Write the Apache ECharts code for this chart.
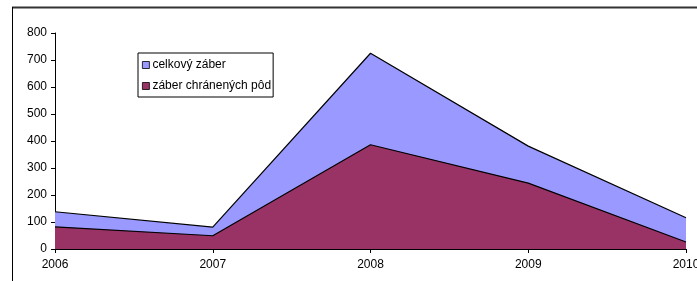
<!DOCTYPE html>
<html>
<head>
<meta charset="utf-8">
<script src="https://cdn.jsdelivr.net/npm/echarts@6/dist/echarts.min.js"></script>
<style>
  html, body { margin: 0; padding: 0; background: #fff; }
  #chart { width: 697px; height: 281px; }
</style>
</head>
<body>
<div id="chart"></div>
<script>
// data
var years = ['2006', '2007', '2008', '2009', '2010'];
var celkovy = [138, 81, 725, 381, 116];
var chranene = [82, 49, 386, 244, 26];
var yTicks = [0, 100, 200, 300, 400, 500, 600, 700, 800];

var font = 'Liberation Sans, Arial, sans-serif';

var myChart = echarts.init(document.getElementById('chart'));

var option = {
    animation: false,
    grid: { left: 55, right: 11, top: 33, bottom: 32, outerBoundsMode: 'none', containLabel: false },
    // outer frame of the chart area
    graphic: [
        { type: 'line', shape: { x1: 12, y1: 7.5, x2: 697, y2: 7.5 }, style: { stroke: '#333', lineWidth: 2 } },
        { type: 'line', shape: { x1: 12.5, y1: 7, x2: 12.5, y2: 281 }, style: { stroke: '#000', lineWidth: 1 } }
    ],
    legend: {
        left: 138, top: 53,
        orient: 'vertical',
        itemWidth: 7, itemHeight: 7,
        itemGap: 9,
        padding: [6, 2, 5, 4],
        borderColor: '#000', borderWidth: 1,
        icon: 'rect',
        textStyle: { fontFamily: font, fontSize: 12, color: '#000', padding: [0, 0, 0, -2] },
        data: [
            { name: 'celkový záber', itemStyle: { color: '#9999ff', borderColor: '#000', borderWidth: 0.8 } },
            { name: 'záber chránených pôd', itemStyle: { color: '#993366', borderColor: '#000', borderWidth: 0.8 } }
        ]
    },
    xAxis: {
        type: 'category',
        data: years,
        boundaryGap: false,
        axisLine: { lineStyle: { color: '#000', width: 1 } },
        axisTick: { show: true, length: 4, lineStyle: { color: '#000' } },
        axisLabel: { fontFamily: font, fontSize: 12, color: '#000', margin: 10 }
    },
    yAxis: {
        type: 'value',
        min: 0, max: 800, interval: 100,
        axisLine: { show: true, lineStyle: { color: '#000', width: 1 } },
        axisTick: { show: true, length: 4, lineStyle: { color: '#000' } },
        axisLabel: {
            fontFamily: font, fontSize: 12, color: '#000', margin: 8,
            formatter: function (v) { return yTicks.indexOf(v) >= 0 ? String(v) : ''; }
        },
        splitLine: { show: false }
    },
    series: [
        {
            name: 'celkový záber',
            type: 'line',
            data: celkovy,
            symbol: 'none',
            lineStyle: { color: '#000', width: 1.2 },
            itemStyle: { color: '#9999ff' },
            areaStyle: { color: '#9999ff', opacity: 1 },
            z: 2
        },
        {
            name: 'záber chránených pôd',
            type: 'line',
            data: chranene,
            symbol: 'none',
            lineStyle: { color: '#000', width: 1.2 },
            itemStyle: { color: '#993366' },
            areaStyle: { color: '#993366', opacity: 1 },
            z: 3
        }
    ]
};

myChart.setOption(option);
</script>
</body>
</html>
